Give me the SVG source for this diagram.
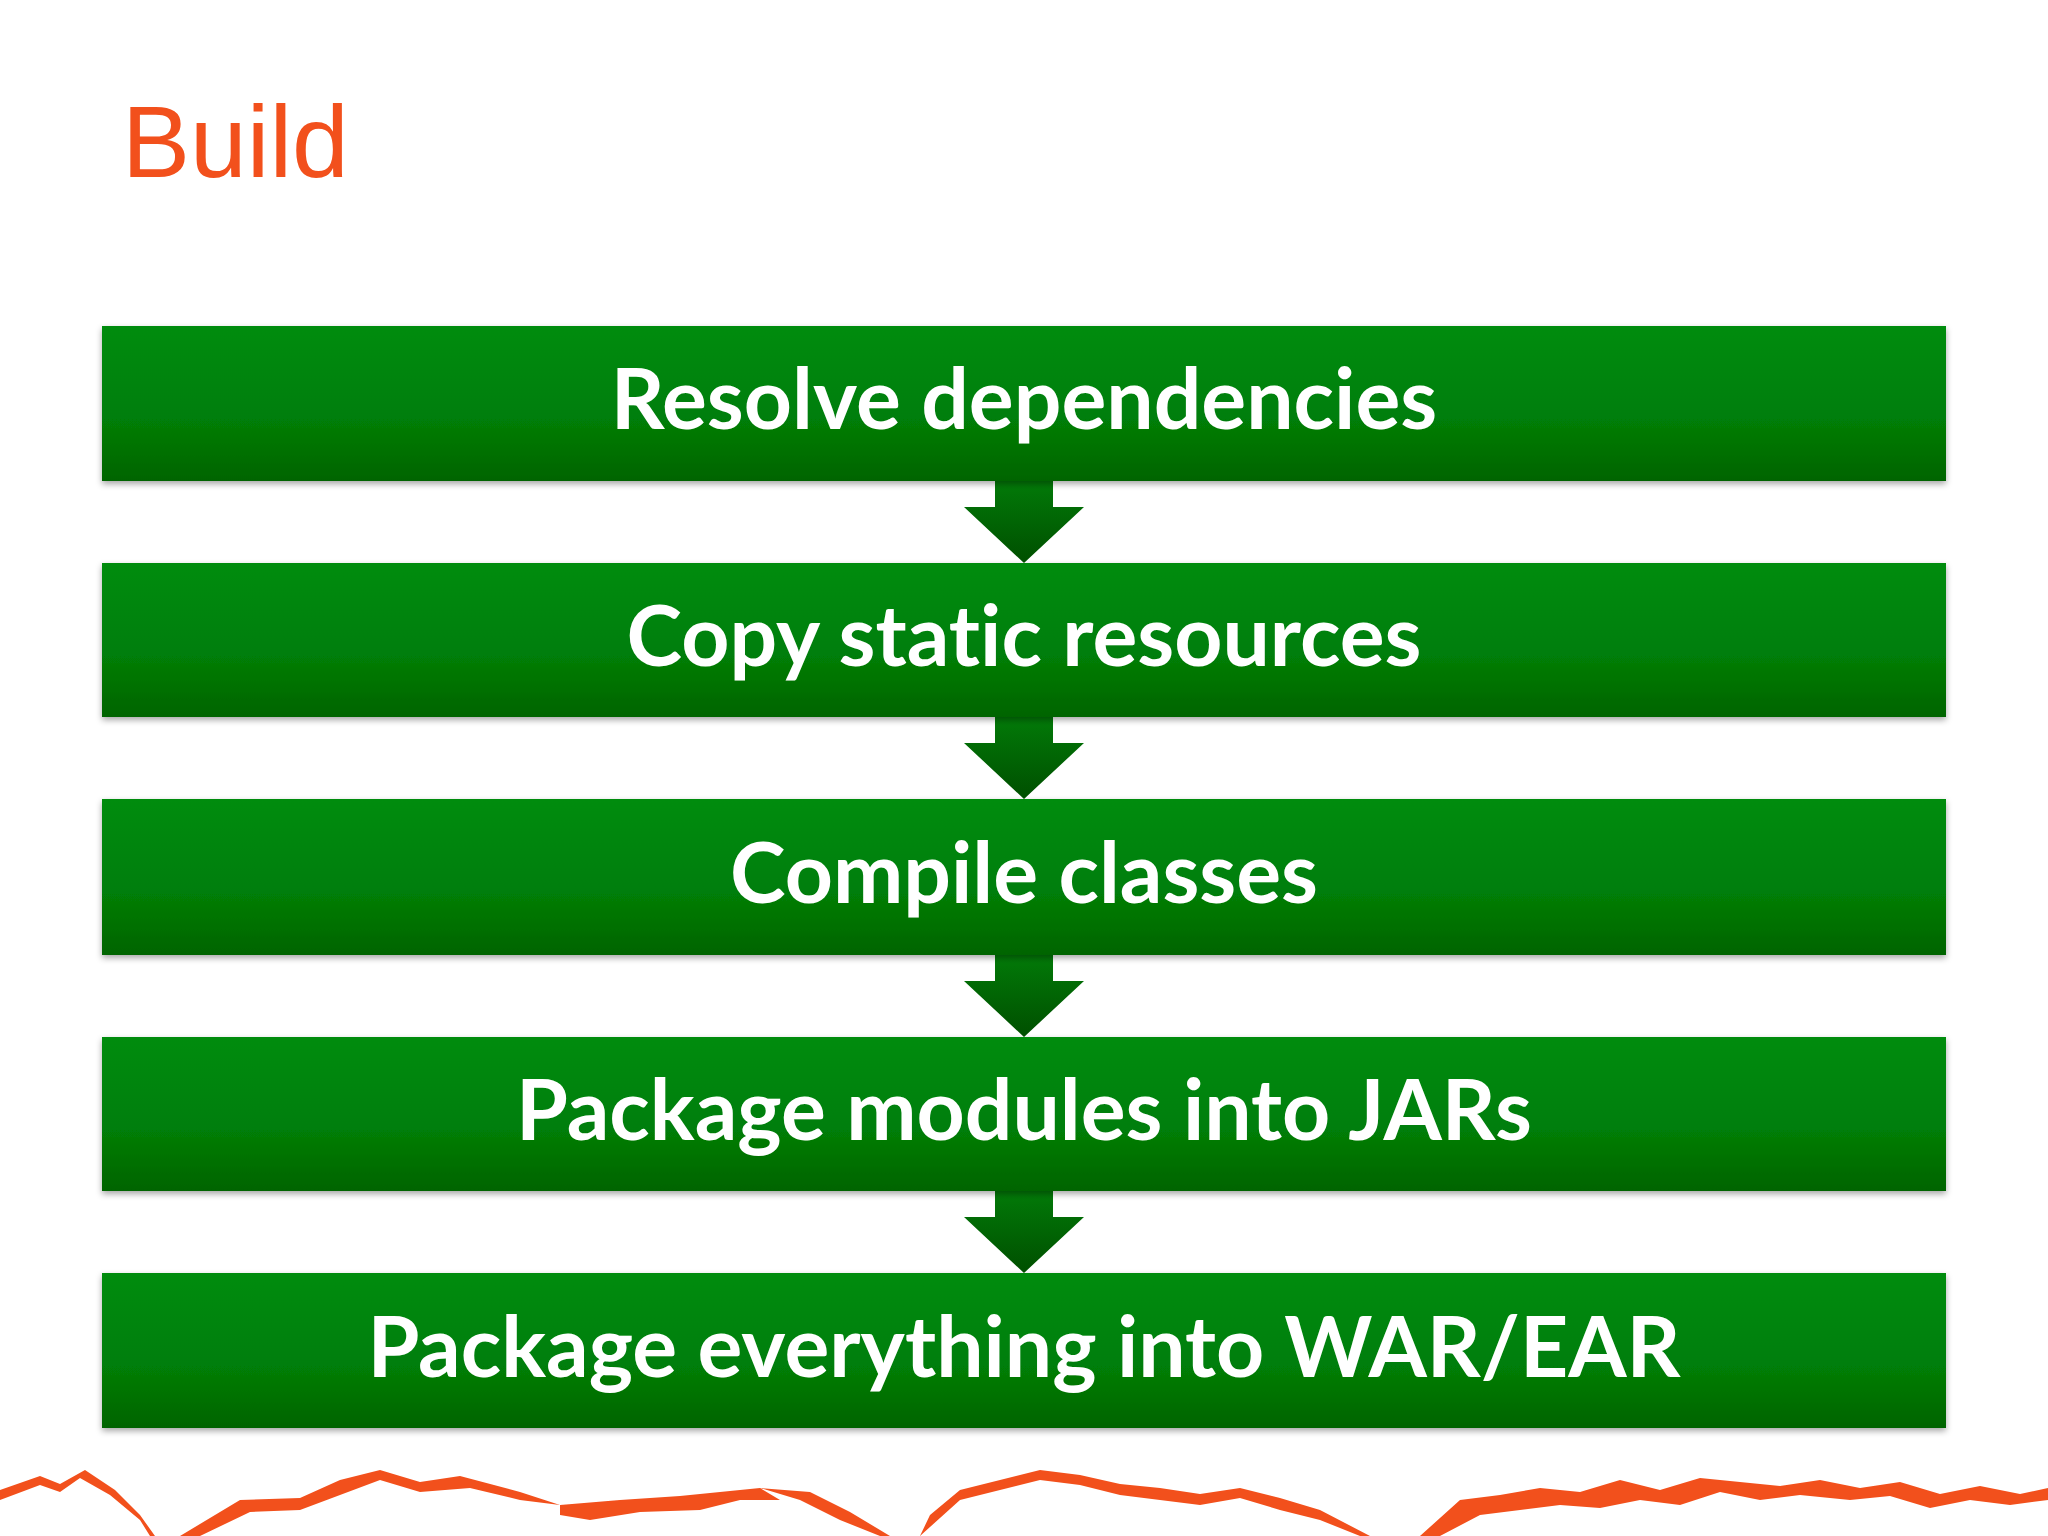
<svg xmlns="http://www.w3.org/2000/svg" width="2048" height="1536" viewBox="0 0 2048 1536">
<defs>
<linearGradient id="g" x1="0" y1="0" x2="0" y2="1"><stop offset="0" stop-color="#028C0B"/><stop offset="0.6" stop-color="#017E07"/><stop offset="1" stop-color="#006400"/></linearGradient>
<linearGradient id="ga" x1="0" y1="0" x2="0" y2="1"><stop offset="0" stop-color="#027A08"/><stop offset="1" stop-color="#004F00"/></linearGradient>
<filter id="sh" x="-5%" y="-10%" width="110%" height="130%"><feDropShadow dx="0" dy="3" stdDeviation="3" flood-color="#000" flood-opacity="0.35"/></filter>
</defs>
<style>
.box{fill:url(#g);filter:url(#sh)}
.lbl{font-family:Lato,"Open Sans",sans-serif;font-weight:bold;font-size:84px;fill:#fff;text-anchor:middle;font-variant-ligatures:none}
.arr{fill:url(#ga)}
</style>
<rect width="2048" height="1536" fill="#fff"/>
<text x="122" y="177" font-family="'Liberation Sans',Arial,sans-serif" font-size="102" fill="#F2501C">Build</text>
<g id="connectors">
<path class="arr" d="M995 481H1053V507H1084L1024 563L964 507H995Z"/>
<path class="arr" d="M995 717H1053V743H1084L1024 799L964 743H995Z"/>
<path class="arr" d="M995 955H1053V981H1084L1024 1037L964 981H995Z"/>
<path class="arr" d="M995 1191H1053V1217H1084L1024 1273L964 1217H995Z"/>
</g>
<g id="n1"><rect class="box" x="102" y="326" width="1844" height="155"/><text class="lbl" x="1024" y="429">Resolve dependencies</text></g>
<g id="n2"><rect class="box" x="102" y="563" width="1844" height="154"/><text class="lbl" x="1024" y="666">Copy static resources</text></g>
<g id="n3"><rect class="box" x="102" y="799" width="1844" height="156"/><text class="lbl" x="1024" y="903">Compile classes</text></g>
<g id="n4"><rect class="box" x="102" y="1037" width="1844" height="154"/><text class="lbl" x="1024" y="1140">Package modules into JARs</text></g>
<g id="n5"><rect class="box" x="102" y="1273" width="1844" height="155"/><text class="lbl" x="1024" y="1377">Package everything into WAR/EAR</text></g>
<path fill="#F2501C" d="M0 1500L40 1485L60 1492L80 1478L110 1495L140 1520L150 1536H155L140 1515L115 1490L85 1470L60 1484L40 1476L0 1490Z M180 1536L240 1500L300 1498L340 1480L380 1470L420 1482L460 1476L520 1492L560 1505L520 1500L470 1488L420 1492L380 1480L340 1495L300 1510L250 1512L200 1536Z M560 1505L620 1500L680 1496L720 1492L760 1488L780 1500L740 1500L700 1510L640 1512L590 1520L560 1515Z M760 1488L800 1500L840 1520L880 1536H890L850 1512L810 1492Z M920 1536L960 1500L1000 1490L1040 1480L1080 1485L1120 1495L1160 1500L1200 1505L1240 1498L1280 1510L1320 1520L1360 1536H1370L1320 1510L1280 1498L1240 1488L1200 1494L1160 1488L1120 1484L1080 1475L1040 1470L1000 1480L960 1490L930 1515Z M1420 1536L1460 1500L1500 1495L1540 1488L1580 1492L1620 1480L1660 1490L1700 1478L1740 1482L1780 1486L1820 1480L1860 1488L1900 1482L1940 1494L1980 1486L2020 1494L2048 1488V1500L2010 1505L1970 1500L1930 1508L1890 1496L1850 1500L1800 1495L1760 1500L1720 1492L1680 1505L1640 1500L1600 1508L1560 1505L1520 1510L1480 1515L1440 1536Z"/>
</svg>
